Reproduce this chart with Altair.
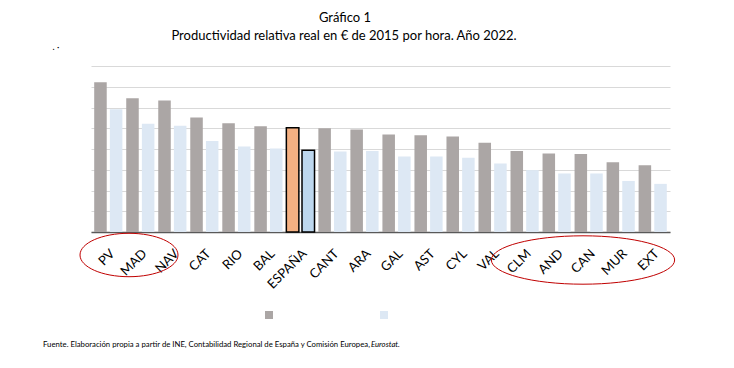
import altair as alt
import pandas as pd

regiones = ["PV", "MAD", "NAV", "CAT", "RIO", "BAL", "ESPAÑA", "CANT", "ARA", "GAL",
            "AST", "CYL", "VAL", "CLM", "AND", "CAN", "MUR", "EXT"]
serie_gris = [36.1, 32.2, 31.7, 27.6, 26.2, 25.5, 25.1, 25.0, 24.7, 23.5,
              23.3, 23.0, 21.5, 19.5, 18.9, 18.8, 16.8, 16.1]
serie_azul = [29.6, 26.1, 25.6, 21.9, 20.6, 20.1, 19.7, 19.4, 19.5, 18.2,
              18.2, 17.9, 16.5, 14.9, 14.1, 14.1, 12.3, 11.6]
grid_vals = [0, 5, 10, 15, 20, 25, 30, 35, 40]

titulo = "Gráfico 1"
subtitulo = "Productividad relativa real en € de 2015 por hora. Año 2022."
fuente = "Fuente. Elaboración propia a partir de INE, Contabilidad Regional de España y Comisión Europea,"
fuente_it = "Eurostat"

rows = []
for r, g, b in zip(regiones, serie_gris, serie_azul):
    esp = r == "ESPAÑA"
    rows.append({"region": r, "serie": "A", "valor": g, "clave": "España A" if esp else "Serie A", "esp": esp})
    rows.append({"region": r, "serie": "B", "valor": b, "clave": "España B" if esp else "Serie B", "esp": esp})
df = pd.DataFrame(rows)

W, H = 579, 166
FONT = "Lato"

bars = alt.Chart(df).mark_bar(stroke="black").encode(
    x=alt.X("region:N", sort=regiones,
            scale=alt.Scale(paddingInner=0.12, paddingOuter=0.1),
            axis=alt.Axis(title=None, labelAngle=-45, labelFontSize=13, labelFont=FONT,
                          labelColor="black", ticks=False, domainColor="#595959",
                          domainWidth=1.5, labelPadding=15, grid=False)),
    xOffset=alt.XOffset("serie:N", scale=alt.Scale(paddingInner=0.2)),
    y=alt.Y("valor:Q", scale=alt.Scale(domain=[0, 40]),
            axis=alt.Axis(title=None, labels=False, ticks=False, domain=False,
                          values=grid_vals, gridColor="#d9d9d9", gridWidth=1)),
    color=alt.Color("clave:N",
                    scale=alt.Scale(domain=["Serie A", "Serie B", "España A", "España B"],
                                    range=["#aba6a5", "#dde8f4", "#f4b183", "#bdd7ee"]),
                    legend=alt.Legend(values=["Serie A", "Serie B"], title=None, orient="none",
                                      legendX=173, legendY=244, direction="horizontal",
                                      labelExpr="''", symbolType="square", symbolSize=64,
                                      symbolStrokeWidth=0, labelOffset=0, columnPadding=105,
                                      padding=0)),
    strokeWidth=alt.condition("datum.esp", alt.value(1.5), alt.value(0)),
)

ell_left = alt.Chart(alt.Data(values=[{}])).mark_point(
    shape="M -1 0 A 1 0.443 0 1 0 1 0 A 1 0.443 0 1 0 -1 0 Z",
    size=9604, filled=False, stroke="#c00000", strokeWidth=1, opacity=1
).encode(x=alt.value(38), y=alt.value(189))

ell_right = alt.Chart(alt.Data(values=[{}])).mark_point(
    shape="M -1 0 A 1 0.264 0 1 0 1 0 A 1 0.264 0 1 0 -1 0 Z",
    size=33600, filled=False, stroke="#c00000", strokeWidth=1, opacity=1
).encode(x=alt.value(492), y=alt.value(194))


def txt(text, x, y, size, align="center", **kw):
    return alt.Chart(alt.Data(values=[{}])).mark_text(
        text=text, fontSize=size, font=FONT, color="black", align=align,
        baseline="middle", **kw
    ).encode(x=alt.value(x), y=alt.value(y))


t1 = txt(titulo, 254, -48, 13)
t2 = txt(subtitulo, 253, -30, 13)
dot = txt(". ·", -35, -19, 9)
f1 = txt(fuente, -48, 279, 7.75, align="left")
f2 = txt(fuente_it + ".", 280, 279, 7.75, align="left", fontStyle="italic")

chart = alt.layer(bars, ell_left, ell_right, t1, t2, dot, f1, f2).properties(
    width=W, height=H,
    autosize=alt.AutoSizeParams(type="none"),
    padding={"left": 83, "top": 58, "right": 56, "bottom": 128},
).configure_view(strokeWidth=0)

chart.save("out.html", embed_options={"renderer": "svg", "actions": False})
